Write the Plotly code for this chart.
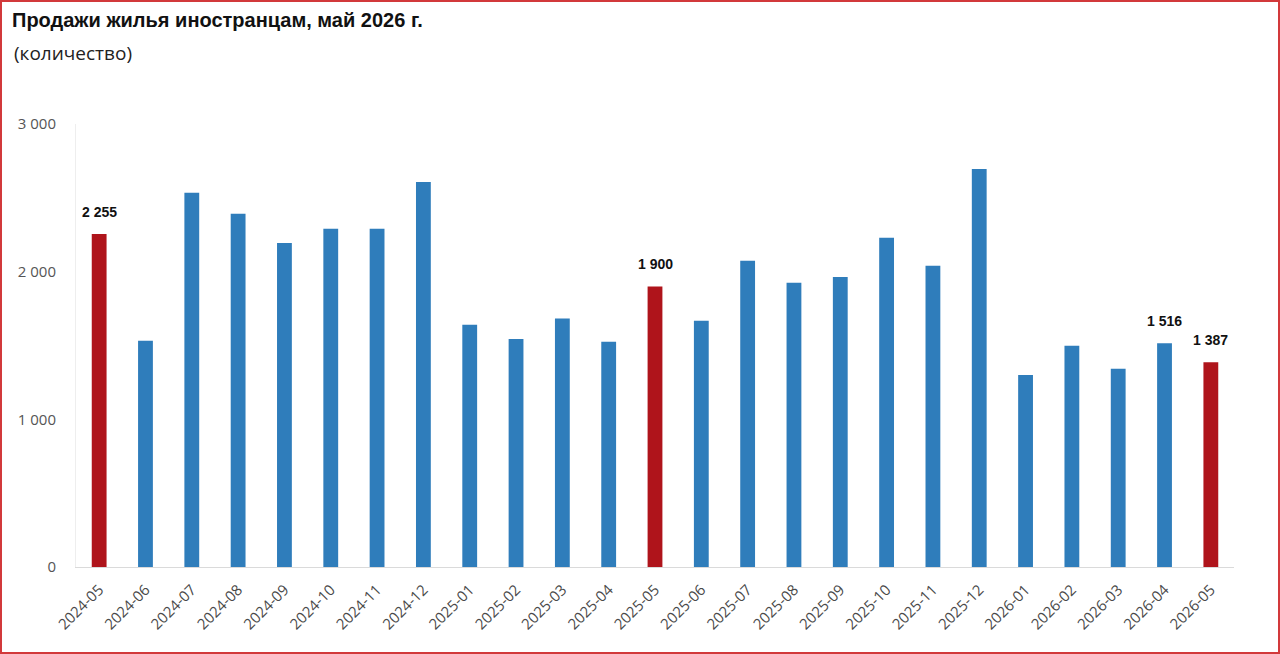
import plotly.graph_objects as go

# monthly sales of housing to foreigners
months = ["2024-05", "2024-06", "2024-07", "2024-08", "2024-09", "2024-10",
          "2024-11", "2024-12", "2025-01", "2025-02", "2025-03", "2025-04",
          "2025-05", "2025-06", "2025-07", "2025-08", "2025-09", "2025-10",
          "2025-11", "2025-12", "2026-01", "2026-02", "2026-03", "2026-04",
          "2026-05"]
sales = [2255, 1532, 2535, 2392, 2194, 2290, 2290, 2608, 1640, 1544, 1682, 1525,
         1900, 1668, 2074, 1925, 1964, 2230, 2040, 2695, 1300, 1498, 1342, 1516,
         1387]
highlight = ["2024-05", "2025-05", "2026-05"]
labelled = ["2024-05", "2025-05", "2026-04", "2026-05"]
y_ticks = [0, 1000, 2000, 3000]

BLUE = "#2F7DBB"
RED = "#AF141B"

W, H = 1280, 654
L, R, T, B = 76, 46, 124, 87
pw, ph = W - L - R, H - T - B


def fmt(v):
    return f"{v:,}".replace(",", " ")


colors = [RED if m in highlight else BLUE for m in months]

fig = go.Figure()
fig.add_trace(go.Bar(
    x=months, y=sales,
    marker=dict(color=colors, line=dict(width=0)),
    hoverinfo="x+y",
))

# value labels above selected bars
for m, v in zip(months, sales):
    if m in labelled:
        fig.add_annotation(
            x=m, y=v, text=f"<b>{fmt(v)}</b>", showarrow=False,
            yanchor="bottom", yshift=12,
            font=dict(family="Liberation Sans, Arial", size=14, color="#111111"),
        )

# subtitle
fig.add_annotation(
    xref="paper", yref="paper",
    x=(12 - L) / pw, y=(H - B - 53) / ph,
    xanchor="left", yanchor="middle", showarrow=False,
    text="(количество)",
    font=dict(family="Open Sans, Noto Sans", size=19, color="#222222"),
)

# red frame around the whole picture
fig.add_shape(
    type="rect", xref="paper", yref="paper",
    x0=(1 - L) / pw, x1=(W - 1 - L) / pw,
    y0=(H - B - (H - 1)) / ph, y1=(H - B - 1) / ph,
    line=dict(color="#D2393B", width=2), fillcolor="rgba(0,0,0,0)",
)

fig.update_layout(
    width=W, height=H,
    margin=dict(l=L, r=R, t=T, b=B),
    paper_bgcolor="white", plot_bgcolor="white",
    separators=", ",
    bargap=0.68,
    showlegend=False,
    title=dict(
        text="<b>Продажи жилья иностранцам, май 2026 г.</b>",
        x=12 / W, xanchor="left",
        y=1 - 20 / H, yanchor="middle",
        font=dict(family="Liberation Sans, Arial", size=20, color="#111111"),
    ),
    xaxis=dict(
        type="category",
        tickangle=-45,
        showgrid=False,
        showline=True, linecolor="#DADADA", linewidth=1,
        ticks="outside", ticklen=7, tickcolor="rgba(0,0,0,0)",
        tickfont=dict(family="Open Sans, Noto Sans", size=15, color="#4A4A4A"),
    ),
    yaxis=dict(
        range=[0, 3000],
        tickvals=y_ticks,
        tickformat=",d",
        showgrid=False, zeroline=False,
        showline=True, linecolor="#EEEEEE", linewidth=1,
        ticks="", ticklabelstandoff=16,
        tickfont=dict(family="Open Sans, Noto Sans", size=15, color="#555555"),
    ),
)

# drop the default page margin so the figure sits at the window corner
fig.write_html("out.html", config={"displayModeBar": False},
               post_script="document.body.style.margin = '0';")
